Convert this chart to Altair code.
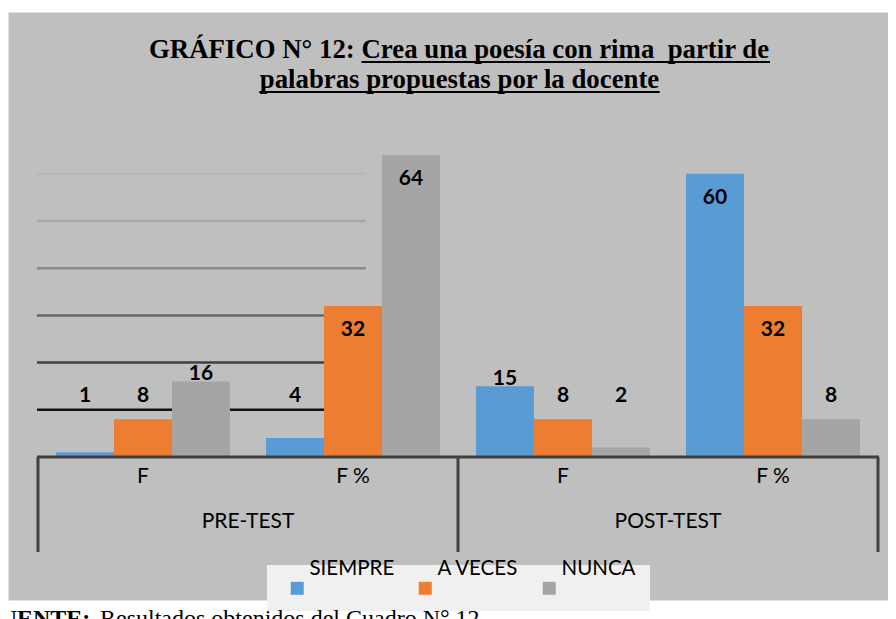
import altair as alt
import pandas as pd

# ---------------- data ----------------
grupos = ["PRE-TEST", "POST-TEST"]
medidas = ["F", "F %"]
series = ["SIEMPRE", "A VECES", "NUNCA"]
pre_f = [1, 8, 16]
pre_fp = [4, 32, 64]
post_f = [15, 8, 2]
post_fp = [60, 32, 8]
grid_vals = [10, 20, 30, 40, 50, 60]

titulo_1a = "GRÁFICO N° 12:"
titulo_1b = "Crea una poesía con rima\u00a0 partir de"
titulo_2 = "palabras propuestas por la docente"
fuente_a = "FUENTE:"
fuente_b = "Resultados obtenidos del Cuadro N° 12"

# ---------------- styles ----------------
colors = ["#5B9BD5", "#ED7D31", "#A5A5A5"]
grid_colors = ["#121212", "#404040", "#676767", "#8a8a8a", "#a6a6a6", "#b6b6b6"]
frame_color = "#404040"

valores = {
    ("PRE-TEST", "F"): pre_f,
    ("PRE-TEST", "F %"): pre_fp,
    ("POST-TEST", "F"): post_f,
    ("POST-TEST", "F %"): post_fp,
}

rows, cats, cat_medida = [], [], []
for g in grupos:
    for m in medidas:
        key = f"{g} {m}"
        cats.append(key)
        cat_medida.append(m)
        for s, v in zip(series, valores[(g, m)]):
            rows.append({"cat": key, "serie": s, "valor": v})
df = pd.DataFrame(rows)

x_scale = alt.Scale(domain=cats, range=[30, 870], paddingInner=0, paddingOuter=0)
y_scale = alt.Scale(domain=[0, 94.3], range=[445, 0], nice=False, zero=True)

X = alt.X("cat:N", sort=cats, scale=x_scale, axis=None)
XO = alt.XOffset("serie:N", sort=series,
                 scale=alt.Scale(domain=series, paddingInner=0, paddingOuter=0.31))
Y = alt.Y("valor:Q", scale=y_scale, axis=None)

# gridlines (partial, as in the original)
grid = alt.Chart(pd.DataFrame({"valor": grid_vals})).mark_rule(strokeWidth=2.5).encode(
    y=Y,
    x=alt.value(29),
    x2=alt.value(358),
    stroke=alt.Stroke("valor:O", scale=alt.Scale(domain=grid_vals, range=grid_colors), legend=None),
)

bars = alt.Chart(df).mark_bar().encode(
    x=X,
    xOffset=XO,
    y=Y,
    color=alt.Color(
        "serie:N",
        sort=series,
        scale=alt.Scale(domain=series, range=colors),
        legend=alt.Legend(
            orient="none",
            legendX=279,
            legendY=547,
            direction="horizontal",
            title=None,
            symbolType="M-1,1.9H1V3.9H-1Z",
            symbolSize=169,
            symbolStrokeWidth=0,
            labelFont="Lato",
            labelFontSize=20.5,
            labelColor="#000000",
            labelOffset=2,
            columnPadding=20,
            padding=0,
        ),
    ),
)

lab_base = alt.Chart(df).transform_calculate(
    ly="datum.valor >= 30 ? datum.valor : max(datum.valor, 11.4)"
)
lab_in = lab_base.transform_filter("datum.valor >= 30").mark_text(
    font="Lato", fontWeight="bold", fontSize=21, color="black", baseline="alphabetic", dy=30
).encode(x=X, xOffset=XO, y=alt.Y("ly:Q", scale=y_scale, axis=None), text="valor:Q")
lab_out = lab_base.transform_filter("datum.valor < 30").mark_text(
    font="Lato", fontWeight="bold", fontSize=21, color="black", baseline="alphabetic", dy=-1
).encode(x=X, xOffset=XO, y=alt.Y("ly:Q", scale=y_scale, axis=None), text="valor:Q")

# category frame (multi-level axis)
base_line = alt.Chart(pd.DataFrame({"valor": [0]})).mark_rule(strokeWidth=3, color=frame_color).encode(
    y=Y, x=alt.value(29), x2=alt.value(871)
)
vlines0 = alt.Chart(pd.DataFrame({"cat": [cats[0], cats[2]]})).mark_rule(
    strokeWidth=3, color=frame_color
).encode(
    x=alt.X("cat:N", sort=cats, scale=x_scale, axis=None, bandPosition=0),
    y=alt.value(445), y2=alt.value(540),
)
vlines1 = alt.Chart(pd.DataFrame({"cat": [cats[3]]})).mark_rule(
    strokeWidth=3, color=frame_color
).encode(
    x=alt.X("cat:N", sort=cats, scale=x_scale, axis=None, bandPosition=1),
    y=alt.value(445), y2=alt.value(540),
)
cat_labels = alt.Chart(pd.DataFrame({"cat": cats, "medida": cat_medida})).mark_text(
    font="Lato", fontSize=21, color="black", baseline="alphabetic"
).encode(x=X, y=alt.value(471), text="medida:N")
grp_labels = alt.Chart(pd.DataFrame({"cat": [cats[1], cats[3]], "grupo": grupos})).mark_text(
    font="Lato", fontSize=21, color="black", baseline="alphabetic"
).encode(
    x=alt.X("cat:N", sort=cats, scale=x_scale, axis=None, bandPosition=0),
    y=alt.value(516),
    text="grupo:N",
)

# legend box
legend_box = alt.Chart(pd.DataFrame({"k": [0]})).mark_rect(color="#F0F0F0").encode(
    x=alt.value(259), x2=alt.value(642), y=alt.value(553), y2=alt.value(599)
)

# title
tstyle = dict(font="Liberation Serif", fontWeight="bold", fontSize=26.8, color="black",
              baseline="alphabetic")
t1a = alt.Chart(pd.DataFrame({"t": [titulo_1a]})).mark_text(align="left", **tstyle).encode(
    x=alt.value(141), y=alt.value(46), text="t:N")
t1b = alt.Chart(pd.DataFrame({"t": [titulo_1b]})).mark_text(align="left", **tstyle).encode(
    x=alt.value(353.5), y=alt.value(46), text="t:N")
t2 = alt.Chart(pd.DataFrame({"t": [titulo_2]})).mark_text(align="center", **tstyle).encode(
    x=alt.value(451.5), y=alt.value(76), text="t:N")
u1 = alt.Chart(pd.DataFrame({"k": [0]})).mark_rule(strokeWidth=2.2, color="black").encode(
    x=alt.value(353.5), x2=alt.value(762), y=alt.value(50))
u2 = alt.Chart(pd.DataFrame({"k": [0]})).mark_rule(strokeWidth=2.2, color="black").encode(
    x=alt.value(251.3), x2=alt.value(651.7), y=alt.value(80))

# source note (cut off at the bottom like the original)
f1 = alt.Chart(pd.DataFrame({"t": [fuente_a]})).mark_text(
    font="Liberation Serif", fontWeight="bold", fontSize=24, color="black", align="left",
    baseline="alphabetic").encode(x=alt.value(-23), y=alt.value(614), text="t:N")
f2 = alt.Chart(pd.DataFrame({"t": [fuente_b]})).mark_text(
    font="Liberation Serif", fontSize=24, color="black", align="left",
    baseline="alphabetic").encode(x=alt.value(92), y=alt.value(614), text="t:N")

chart = alt.layer(
    grid, bars, lab_in, lab_out, base_line, vlines0, vlines1, cat_labels, grp_labels,
    legend_box, t1a, t1b, t2, u1, u2, f1, f2,
).properties(
    width=880,
    height=588,
    autosize=alt.AutoSizeParams(type="none"),
    padding={"left": 0, "top": 4, "right": 0, "bottom": 19},
    background="white",
).configure_view(
    fill="#BFBFBF", stroke="transparent"
)

chart.save("out.html", embed_options={"renderer": "svg", "actions": False})
